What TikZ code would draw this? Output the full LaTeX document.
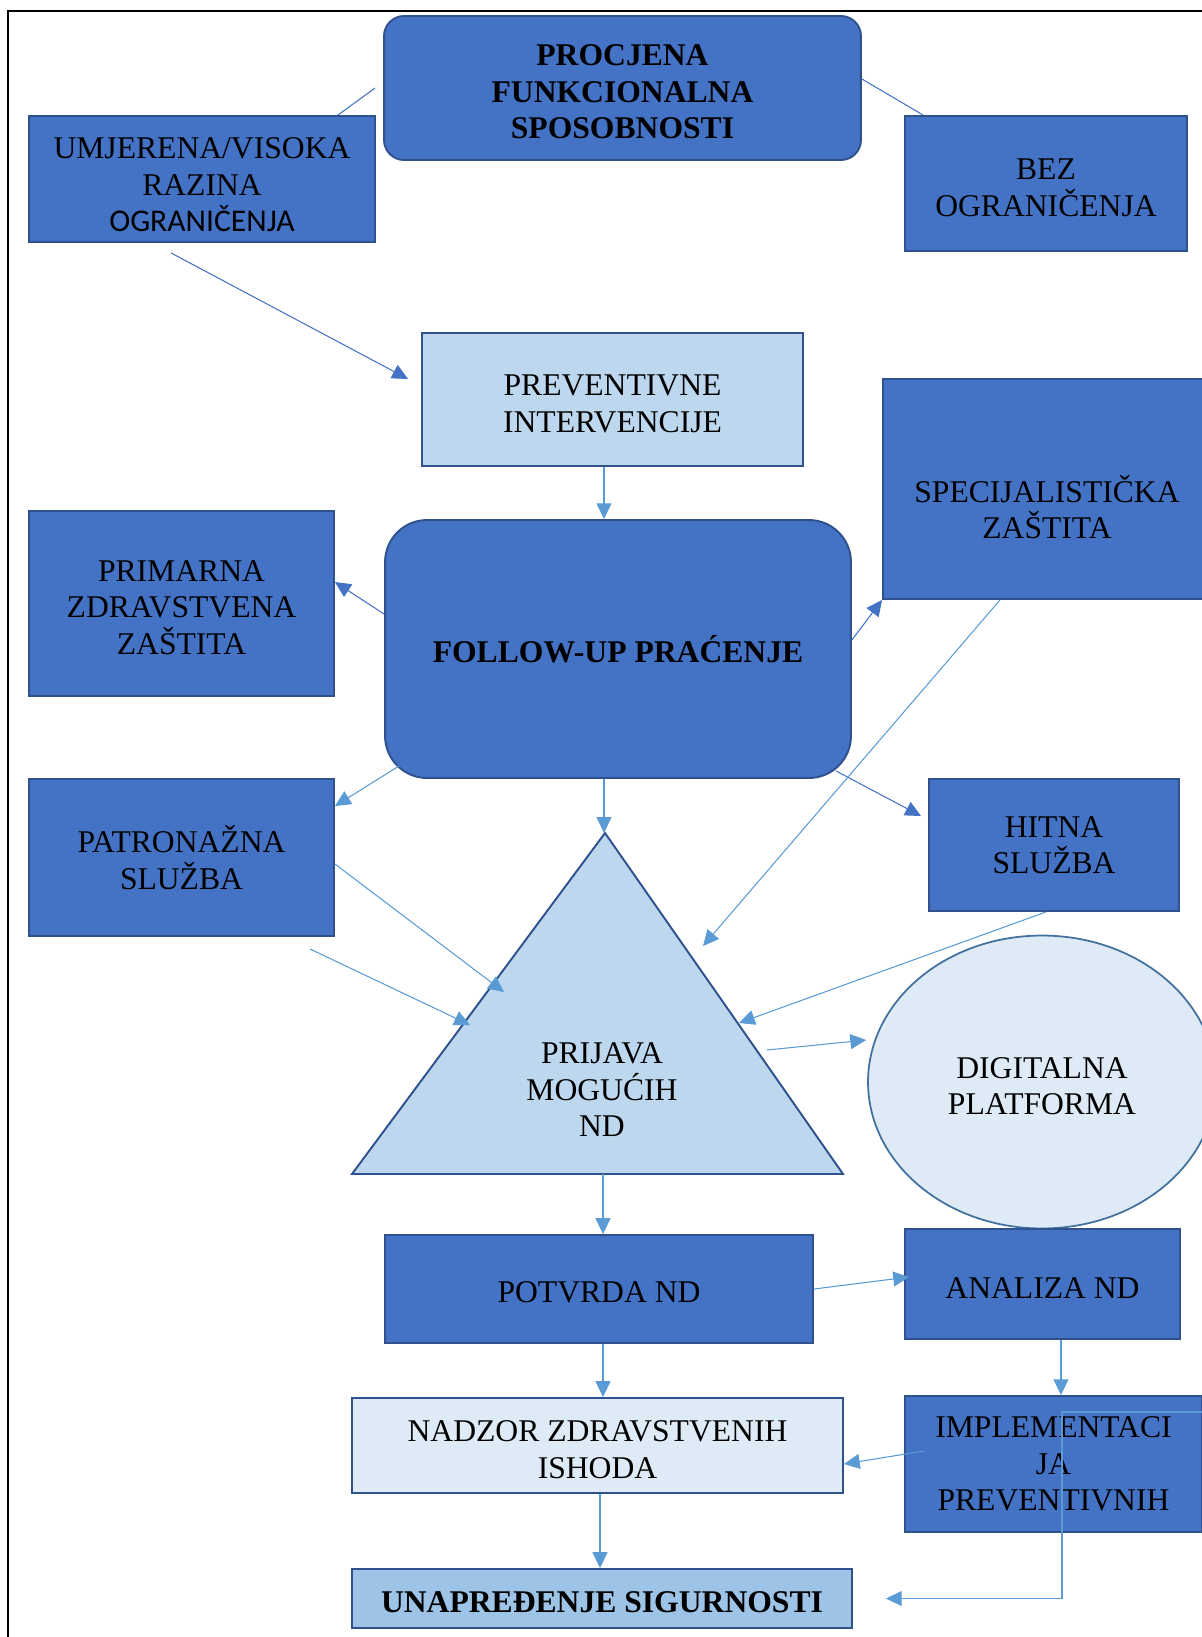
\documentclass[tikz,border=0pt]{standalone}
\usepackage{fontspec}
\setmainfont{Liberation Serif}
\newfontfamily\calibfont{Carlito}
\usepackage{tikz}
\usetikzlibrary{arrows.meta,shapes.geometric}
\definecolor{boxblue}{HTML}{4472C4}
\definecolor{edgeblue}{HTML}{2F528F}
\definecolor{paleblue}{HTML}{BDD7EE}
\definecolor{icyblue}{HTML}{DEEBF7}
\definecolor{midblue}{HTML}{9DC3E6}
\definecolor{arrowblue}{HTML}{5B9BD5}
\definecolor{ovaledge}{HTML}{41719C}
\newcommand{\topstrut}{\rule{0pt}{16.5pt}}

\begin{document}
\begin{tikzpicture}[x=0.02cm,y=-0.02cm,
  txt/.style={font=\fontsize{18}{20.8}\selectfont,align=center,text=black,execute at begin node={\rule{0pt}{16pt}}},
  darkbox/.style={txt,draw=edgeblue,fill=boxblue,line width=1.1pt,inner sep=0pt},
  palebox/.style={darkbox,fill=paleblue},
  icybox/.style={darkbox,fill=icyblue},
  darr/.style={draw=boxblue,line width=0.6pt,-{Triangle[length=9pt,width=8.5pt]}},
  larr/.style={darr,draw=arrowblue},
  link/.style={draw=boxblue,line width=0.6pt}]

\useasboundingbox (0,0) rectangle (1202,1637);

%frame
\draw[line width=1pt] (8,1650) -- (8,11) -- (1215,11);

%top row
\node[darkbox,rounded corners=0.4cm,minimum width=9.54cm,minimum height=2.88cm,font=\fontsize{18}{20.8}\selectfont\bfseries] (proc) at (622.5,88) {\topstrut PROCJENA\\FUNKCIONALNA\\SPOSOBNOSTI};
\node[darkbox,minimum width=6.92cm,minimum height=2.52cm] (umj) at (202,179) {\rule{0pt}{18.5pt}UMJERENA/VISOKA\\RAZINA\\{\calibfont OGRANIČENJA}};
\node[darkbox,minimum width=5.64cm,minimum height=2.7cm] (bez) at (1046,183.5) {\topstrut BEZ\\OGRANIČENJA};
\node[palebox,minimum width=7.62cm,minimum height=2.66cm] (prev) at (612.5,399.5) {\topstrut PREVENTIVNE\\INTERVENCIJE};

%follow-up and its branches
\node[darkbox,minimum width=6.56cm,minimum height=4.4cm] (spec) at (1047,489) {};
\node[txt] (spectxt) at ([yshift=-0.36cm]spec.center) {SPECIJALISTIČKA\\ZAŠTITA};
\node[darkbox,minimum width=6.1cm,minimum height=3.7cm] (prim) at (181.5,603.5) {\topstrut PRIMARNA\\ZDRAVSTVENA\\ZAŠTITA};
\node[darkbox,rounded corners=0.84cm,minimum width=9.32cm,minimum height=5.16cm,font=\fontsize{18}{20.8}\selectfont\bfseries] (fol) at (618,649) {FOLLOW-UP PRAĆENJE};
\node[darkbox,minimum width=6.1cm,minimum height=3.14cm] (patr) at (181.5,857.5) {PATRONAŽNA\\SLUŽBA};
\node[darkbox,minimum width=5cm,minimum height=2.64cm] (hitna) at (1054,845) {HITNA\\SLUŽBA};

%triangle
\coordinate (apex) at (605,833);
\coordinate (baseL) at (352,1174);
\coordinate (baseR) at (843,1174);
\draw[fill=paleblue,draw=edgeblue,line width=1.1pt] (apex) -- (baseR) -- (baseL) -- cycle;
\node[txt] (prijava) at (602,1090) {PRIJAVA\\MOGUĆIH\\ND};
\node[ellipse,txt,draw=ovaledge,fill=icyblue,line width=1pt,inner sep=0pt,minimum width=6.96cm,minimum height=5.86cm] (dig) at (1042,1082) {\topstrut DIGITALNA\\PLATFORMA};

%lower part
\node[darkbox,minimum width=8.56cm,minimum height=2.16cm] (potvrda) at (599,1289) {POTVRDA ND};
\node[darkbox,minimum width=5.5cm,minimum height=2.2cm] (analiza) at (1042.5,1284) {ANALIZA ND};
\node[icybox,minimum width=9.82cm,minimum height=1.9cm] (nadzor) at (597.5,1445.5) {\topstrut NADZOR ZDRAVSTVENIH\\ISHODA};
\node[darkbox,minimum width=5.94cm,minimum height=2.72cm] (impl) at (1053.5,1464) {IMPLEMENTACI\\JA\\PREVENTIVNIH};
\node[darkbox,fill=midblue,minimum width=10cm,minimum height=1.18cm,font=\fontsize{18}{20.8}\selectfont\bfseries] (unap) at (602,1598.5) {UNAPREĐENJE SIGURNOSTI};

%arrow ends
\coordinate (prevout) at ([xshift=-0.17cm]prev.south);
\coordinate (folout) at ([xshift=-0.28cm]fol.south);
\coordinate (tribase) at (603,1174);
\coordinate (potout) at ([xshift=0.08cm]potvrda.south);
\coordinate (nadout) at ([xshift=0.05cm]nadzor.south);
\coordinate (anaout) at ([xshift=0.37cm]analiza.south);
\coordinate (triA) at (504,992);
\coordinate (triB) at (470,1025);
\coordinate (triC) at (703,946);
\coordinate (triD) at (739,1023);
\coordinate (triE) at (767,1050);
\coordinate (loopin) at (1215,1412);

%connectors
\draw[link] ([xshift=-0.16cm]proc.west) -- ([xshift=-0.76cm]umj.north east);
\draw[link] ([yshift=0.18cm]proc.east) -- ([xshift=0.38cm]bez.north west);
\draw[darr] ([xshift=-0.62cm,yshift=-0.2cm]umj.south) -- ([xshift=-0.26cm,yshift=0.41cm]prev.west);
\draw[larr] (prevout) -- (prevout |- fol.north);
\draw[darr] ([yshift=0.7cm]fol.west) -- ([yshift=0.43cm]prim.east);
\draw[larr] ([xshift=0.3cm,yshift=0.26cm]fol.south west) -- ([yshift=-0.56cm]patr.north east);
\draw[darr] ([yshift=0.18cm]fol.east) -- (spec.south west);
\draw[darr] ([xshift=-0.32cm,yshift=0.16cm]fol.south east) -- ([xshift=-0.14cm,yshift=0.58cm]hitna.west);
\draw[larr] (folout) -- (folout |- apex);
\draw[larr] ([yshift=-0.13cm]patr.east) -- (triA);
\draw[larr] ([xshift=-0.5cm,yshift=-0.24cm]patr.south east) -- (triB);
\draw[larr] ([xshift=-0.94cm]spec.south) -- (triC);
\draw[larr] ([xshift=-0.16cm]hitna.south) -- (triD);
\draw[larr] (triE) -- ([xshift=-0.02cm,yshift=0.84cm]dig.west);
\draw[larr] (tribase) -- (tribase |- potvrda.north);
\draw[larr] (potvrda.east) -- ([xshift=0.1cm,yshift=0.14cm]analiza.west);
\draw[larr] (potout) -- (potout |- nadzor.north);
\draw[larr] (anaout) -- (anaout |- impl.north);
\draw[larr] ([xshift=0.4cm,yshift=0.26cm]impl.west) -- ([yshift=-0.37cm]nadzor.east);
\draw[larr] (nadout) -- (nadout |- unap.north);
\draw[larr] (loopin) -- ++(-153,0) |- ([xshift=0.66cm]unap.east);

\end{tikzpicture}
\end{document}
